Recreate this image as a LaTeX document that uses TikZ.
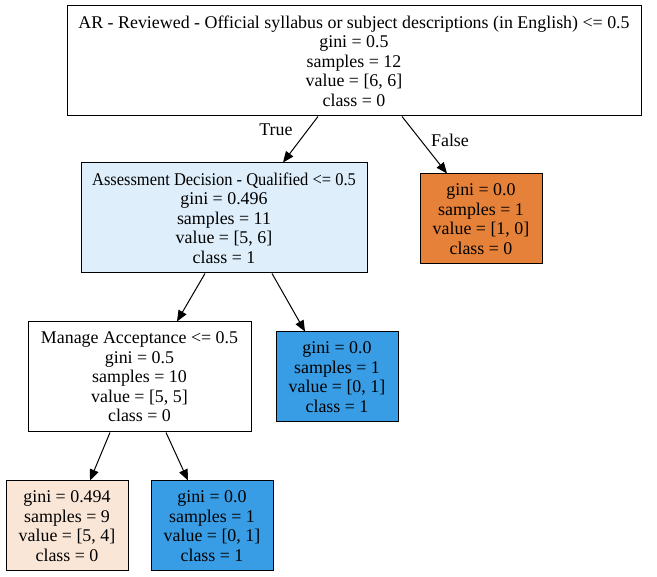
\documentclass[tikz,border=0pt]{standalone}
\usepackage{fontspec}
\setmainfont{Liberation Serif}
\usetikzlibrary{arrows.meta}
\definecolor{lblue}{HTML}{DEEFFB}
\definecolor{lorange}{HTML}{FAE6D7}
\definecolor{sorange}{HTML}{E58139}
\definecolor{sblue}{HTML}{399DE5}
\tikzset{
  tn/.style={draw=black, line width=1pt, inner sep=0pt, align=center,
    font=\fontsize{17.9}{19.5}\selectfont},
  edge/.style={line width=1pt, -{Triangle[length=11pt,width=9pt]}},
  elab/.style={font=\fontsize{17.9}{19.5}\selectfont}
}
\begin{document}
\begin{tikzpicture}[x=1pt,y=1pt]
\useasboundingbox (0,0) rectangle (657,577);
\node[tn, minimum width=574pt, minimum height=110pt] (root) at (354,516)
  {AR - Reviewed - Official syllabus or subject descriptions (in English) <= 0.5\\gini = 0.5\\samples = 12\\value = [6, 6]\\class = 0};
\node[tn, fill=lblue, minimum width=286pt, minimum height=110pt] (n1) at (224,359)
  {\scalebox{0.92}[1]{Assessment Decision - Qualified <= 0.5}\\gini = 0.496\\samples = 11\\value = [5, 6]\\class = 1};
\node[tn, fill=sorange, minimum width=122pt, minimum height=90pt] (n2) at (481,358)
  {gini = 0.0\\samples = 1\\value = [1, 0]\\class = 0};
\node[tn, minimum width=223pt, minimum height=110pt] (n3) at (139.5,200)
  {Manage Acceptance <= 0.5\\gini = 0.5\\samples = 10\\value = [5, 5]\\class = 0};
\node[tn, fill=sblue, minimum width=122pt, minimum height=90pt] (n4) at (337,200)
  {gini = 0.0\\samples = 1\\value = [0, 1]\\class = 1};
\node[tn, fill=lorange, minimum width=122pt, minimum height=90pt] (n5) at (67,51)
  {gini = 0.494\\samples = 9\\value = [5, 4]\\class = 0};
\node[tn, fill=sblue, minimum width=122pt, minimum height=90pt] (n6) at (212,51)
  {gini = 0.0\\samples = 1\\value = [0, 1]\\class = 1};
\draw[edge] ([xshift=-36pt]root.south) -- ([xshift=59pt]n1.north);
\draw[edge] ([xshift=48pt]root.south) -- ([xshift=-34pt]n2.north);
\draw[edge] ([xshift=-19pt]n1.south) -- ([xshift=37.5pt]n3.north);
\draw[edge] ([xshift=48pt]n1.south) -- ([xshift=-32pt]n4.north);
\draw[edge] ([xshift=-29.5pt]n3.south) -- ([xshift=23pt]n5.north);
\draw[edge] ([xshift=26.5pt]n3.south) -- ([xshift=-24pt]n6.north);
\node[elab] (lt) at (276,447) {True};
\node[elab] (lf) at (450,437) {False};
\end{tikzpicture}
\end{document}
